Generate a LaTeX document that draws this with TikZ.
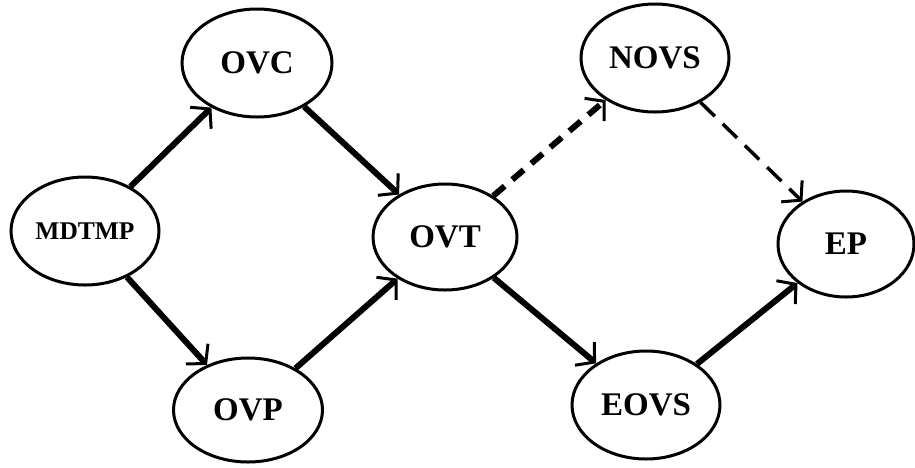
\documentclass[tikz,border=0pt]{standalone}
\usepackage{fontspec}
\setmainfont{Liberation Serif}
\usetikzlibrary{shapes.geometric,arrows.meta}
\begin{document}
\begin{tikzpicture}[x=1pt,y=-1pt,
  stnode/.style={ellipse,draw=black,line width=3pt,inner sep=0pt,
    font=\fontsize{33}{36}\selectfont\bfseries},
  bigtext/.style={font=\fontsize{25.5}{28}\selectfont\bfseries},
  tip/.style={-{Straight Barb[length=13pt,width=30pt,line width=3pt]}},
  solidarrow/.style={tip,line width=6pt},
  thickdash/.style={tip,line width=6pt,dash pattern=on 15pt off 10pt},
  thindash/.style={tip,line width=3.5pt,dash pattern=on 20pt off 11pt}]
\useasboundingbox (0,0) rectangle (915,467);
\fill[white] (0,0) rectangle (915,467);
\node[stnode,bigtext,minimum width=148pt,minimum height=108pt] (mdtmp) at (85,231) {MDTMP};
\node[stnode,minimum width=150pt,minimum height=108pt] (ovc) at (257,63) {OVC};
\node[stnode,minimum width=149pt,minimum height=104pt] (ovp) at (248,410) {OVP};
\node[stnode,minimum width=144pt,minimum height=106pt] (ovt) at (445,237) {OVT};
\node[stnode,minimum width=148pt,minimum height=108pt] (novs) at (655,58) {NOVS};
\node[stnode,minimum width=148pt,minimum height=108pt] (eovs) at (646,405) {EOVS};
\node[stnode,minimum width=136pt,minimum height=106pt] (ep) at (846,244) {EP};
\draw[solidarrow] (mdtmp) -- (ovc);
\draw[solidarrow] (mdtmp) -- (ovp);
\draw[solidarrow] (ovc) -- (ovt);
\draw[solidarrow] (ovp) -- (ovt);
\draw[solidarrow] (ovt) -- (eovs);
\draw[solidarrow] (eovs) -- (ep);
\draw[thickdash] (ovt) -- (novs);
\draw[thindash] (novs) -- (ep);
\end{tikzpicture}
\end{document}
